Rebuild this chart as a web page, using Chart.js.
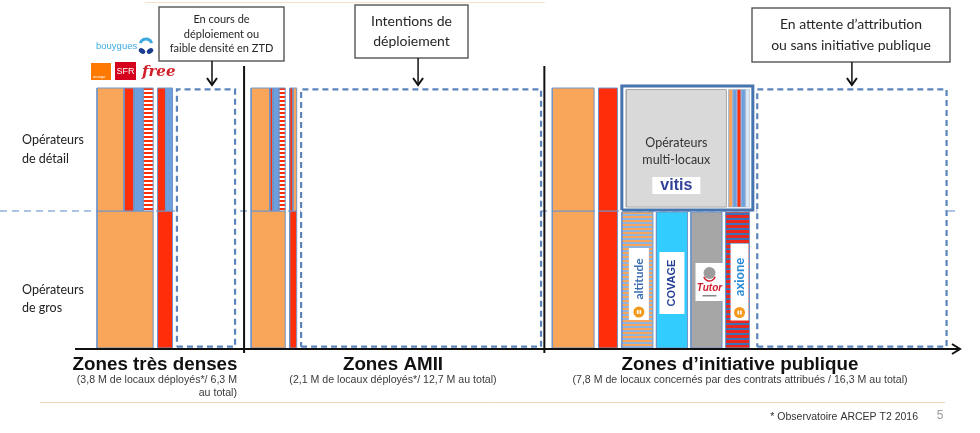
<!DOCTYPE html>
<html><head><meta charset="utf-8">
<script src="https://cdn.jsdelivr.net/npm/chart.js@4/dist/chart.umd.min.js"></script>
<style>html,body{margin:0;padding:0;background:#fff;}canvas{display:block;}</style>
</head><body>
<canvas id="c" width="980" height="433" style="width:980px;height:433px"></canvas>
<script>
// ---------------- DATA (millions de locaux) ----------------
const zoneNames = ['Zones très denses', 'Zones AMII', 'Zones d\u2019initiative publique'];
const zoneNotes = [
  ['(3,8 M de locaux déployés*/ 6,3 M', 'au total)'],
  ['(2,1 M de locaux déployés*/ 12,7 M au total)'],
  ['(7,8 M de locaux concernés par des contrats attribués / 16,3 M au total)']
];
const rowLabels = [['Opérateurs', 'de détail'], ['Opérateurs', 'de gros']];
const rowSplit = 52.7;          // share (%) : wholesale below, retail above

// Zones très denses
const ztdColWidths = [2.55, 0.68];
const ztdTopWidths = [[1.23, 0.45, 0.41, 0.46], [0.36, 0.32]];
const ztdTopOps = [['orange', 'sfr', 'bouygues', 'free'], ['sfr', 'bouygues']];
const ztdBottomOps = ['orange', 'sfr'];
const ztdPending = 2.64;

// Zones AMII
const amiiColWidths = [1.55, 0.32];
const amiiTopWidths = [[0.85, 0.14, 0.27, 0.29], [0.15, 0.17]];
const amiiTopOps = [['orange', 'sfr', 'bouygues', 'free'], ['sfr', 'orange']];
const amiiBottomOps = ['orange', 'sfr'];
const amiiPending = 10.9;

// Zones d'initiative publique
const ripColWidths = [1.9, 0.86];
const ripColOps = ['orange', 'sfr'];
const ripMultiWidth = 5.95;
const ripMultiBoxWidth = 4.55;
const ripMultiStripeWidths = [0.19, 0.19, 0.19, 0.19, 0.19];
const ripMultiStripeOps = ['orange', 'bouygues', 'sfr', 'bouygues', 'light'];
const ripWholesaleNames = ['altitude', 'COVAGE', 'Tutor', 'axione'];
const ripWholesaleWidths = [1.41, 1.41, 1.41, 1.09];
const ripPending = 8.6;

const calloutTexts = [
  ['En cours de', 'déploiement ou', 'faible densité en ZTD'],
  ['Intentions de', 'déploiement'],
  ['En attente d\u2019attribution', 'ou sans initiative publique']
];
const footnote = '* Observatoire ARCEP T2 2016';
const pageNo = '5';

// ---------------- LAYOUT ----------------
const X_MIN = -1, X_MAX = 39.2;
const GAP = 0.2;
const zoneStart = [0, 7.0, 20.68];
const separators = [6.68, 20.32];

function stripePattern(c1, c2, h1, h2) {
  const t = document.createElement('canvas'); t.width = 4; t.height = h1 + h2;
  const g = t.getContext('2d');
  g.fillStyle = c1; g.fillRect(0, 0, 4, h1);
  g.fillStyle = c2; g.fillRect(0, h1, 4, h2);
  return g.createPattern(t, 'repeat');
}
const FILL = {
  orange: '#F9A65A', sfr: '#FF2D0A', bouygues: '#6C9FDB', light: '#DCE6F2',
  free: stripePattern('#FF2D0A', '#FFFFFF', 2, 2),
  altitude: stripePattern('#F9A65A', '#8DB3E2', 2, 2),
  COVAGE: '#33CCFF', Tutor: '#A6A6A6',
  axione: stripePattern('#E8281E', '#3F6FB5', 3, 2)
};
const EDGE = '#7095C8';

const shapes = [];
function rect(x0, x1, y0, y1, fillColor, border, bw, dash) {
  shapes.push({
    type: 'line',
    data: [{x: x0, y: y0}, {x: x1, y: y0}, {x: x1, y: y1}, {x: x0, y: y1}, {x: x0, y: y0}],
    backgroundColor: fillColor || 'rgba(0,0,0,0)',
    fill: fillColor ? 'shape' : false,
    borderColor: border, borderWidth: bw, borderDash: dash || [],
    pointRadius: 0, pointHoverRadius: 0, tension: 0, clip: false,
    borderJoinStyle: 'miter'
  });
}
const pendingBox = (x0, w) => rect(x0, x0 + w, 0.5, 99.5, '#FFFFFF', '#5B84BC', 2.2, [6, 4]);

function splitZone(start, colWidths, topWidths, topOps, bottomOps, pending) {
  let x = start;
  colWidths.forEach((w, i) => {
    rect(x, x + w, 0, rowSplit, FILL[bottomOps[i]], EDGE, 1);
    let tx = x;
    topWidths[i].forEach((tw, j) => { rect(tx, tx + tw, rowSplit, 100, FILL[topOps[i][j]], EDGE, 1); tx += tw; });
    x += w + GAP;
  });
  pendingBox(x, pending);
  return {x0: x, x1: x + pending};
}
const pend = [];
pend.push(splitZone(zoneStart[0], ztdColWidths, ztdTopWidths, ztdTopOps, ztdBottomOps, ztdPending));
pend.push(splitZone(zoneStart[1], amiiColWidths, amiiTopWidths, amiiTopOps, amiiBottomOps, amiiPending));

// RIP
let rx = zoneStart[2];
ripColWidths.forEach((w, i) => {
  rect(rx, rx + w, 0, rowSplit, FILL[ripColOps[i]], EDGE, 1);
  rect(rx, rx + w, rowSplit, 100, FILL[ripColOps[i]], EDGE, 1);
  rx += w + GAP;
});
const multi = {x0: rx, x1: rx + ripMultiWidth};
rect(multi.x0, multi.x1, 53.1, 100.8, '#FFFFFF', '#4674AE', 3);
const grayBox = {x0: multi.x0 + 0.2, x1: multi.x0 + 0.2 + ripMultiBoxWidth};
rect(grayBox.x0, grayBox.x1, 54.2, 99.4, '#D9D9D9', '#A8A8A8', 1);
let sx = grayBox.x1 + 0.1;
ripMultiStripeWidths.forEach((w, i) => { rect(sx, sx + w, 54.2, 99.4, FILL[ripMultiStripeOps[i]], '#9DB5D6', 0.5); sx += w; });
const cells = [];
let cx = multi.x0;
ripWholesaleWidths.forEach((w, i) => {
  rect(cx, cx + w, 0, 52.3, FILL[ripWholesaleNames[i]], EDGE, 1);
  cells.push({x0: cx, x1: cx + w});
  cx += w + 0.16;
});
pendingBox(multi.x1 + 0.2, ripPending);
pend.push({x0: multi.x1 + 0.2, x1: multi.x1 + 0.2 + ripPending});

const datasets = shapes.reverse();   // first dataset is drawn on top in Chart.js

// ---------------- DECORATION PLUGIN ----------------
function txt(ctx, s, x, y, font, color, align) {
  ctx.font = font; ctx.fillStyle = color; ctx.textAlign = align || 'left'; ctx.textBaseline = 'middle';
  ctx.fillText(s, x, y);
}
function seg(ctx, x0, y0, x1, y1) { ctx.beginPath(); ctx.moveTo(x0, y0); ctx.lineTo(x1, y1); ctx.stroke(); }
function callout(ctx, b, lines, font, lh, ax, tip) {
  ctx.fillStyle = '#fff'; ctx.fillRect(b[0], b[1], b[2] - b[0], b[3] - b[1]);
  ctx.strokeStyle = '#555'; ctx.lineWidth = 1.4; ctx.setLineDash([]);
  ctx.strokeRect(b[0], b[1], b[2] - b[0], b[3] - b[1]);
  const cxm = (b[0] + b[2]) / 2, cym = (b[1] + b[3]) / 2;
  lines.forEach((l, i) => txt(ctx, l, cxm, cym + (i - (lines.length - 1) / 2) * lh, font, '#262626', 'center'));
  ctx.strokeStyle = '#111'; ctx.lineWidth = 1.5;
  seg(ctx, ax, b[3], ax, tip);
  ctx.lineWidth = 2;
  ctx.beginPath(); ctx.moveTo(ax - 5, tip - 7); ctx.lineTo(ax, tip); ctx.lineTo(ax + 5, tip - 7); ctx.stroke();
}
function vlogo(ctx, cxp, cyp, w, h, label, font, color, dotColor) {
  ctx.fillStyle = '#fff'; ctx.fillRect(cxp - w / 2, cyp - h / 2, w, h);
  ctx.save(); ctx.translate(cxp, cyp - (dotColor ? 5 : 0)); ctx.rotate(-Math.PI / 2);
  txt(ctx, label, 0, 0, font, color, 'center');
  ctx.restore();
  if (dotColor) {
    ctx.fillStyle = dotColor; ctx.beginPath(); ctx.arc(cxp, cyp + h / 2 - 8, 5.5, 0, Math.PI * 2); ctx.fill();
    ctx.fillStyle = '#fff'; ctx.fillRect(cxp - 2, cyp + h / 2 - 10, 1.6, 4); ctx.fillRect(cxp + 0.6, cyp + h / 2 - 10, 1.6, 4);
  }
}

const decor = {
  id: 'decor',
  beforeDatasetsDraw(chart) {
    const {ctx} = chart, xs = chart.scales.x, ys = chart.scales.y;
    ctx.save();
    ctx.strokeStyle = '#F6E1CD'; ctx.lineWidth = 1;
    seg(ctx, 145, 2.5, 545, 2.5);
    const yMid = ys.getPixelForValue(rowSplit);
    ctx.strokeStyle = '#8FB1DC'; ctx.lineWidth = 1.5; ctx.setLineDash([7, 5]);
    seg(ctx, 0, yMid, xs.getPixelForValue(X_MAX), yMid);
    ctx.restore();
  },
  afterDatasetsDraw(chart) {
    const {ctx} = chart, xs = chart.scales.x, ys = chart.scales.y;
    const px = v => xs.getPixelForValue(v), py = v => ys.getPixelForValue(v);
    ctx.save();
    // separators
    ctx.strokeStyle = '#111'; ctx.lineWidth = 2;
    separators.forEach(s => seg(ctx, px(s), 66, px(s), py(0) + 5));
    // horizontal axis with arrow
    const y0 = py(0) + 1;
    seg(ctx, px(X_MIN), y0, px(X_MAX) - 1, y0);
    ctx.beginPath(); ctx.moveTo(px(X_MAX) - 8, y0 - 5); ctx.lineTo(px(X_MAX), y0); ctx.lineTo(px(X_MAX) - 8, y0 + 5); ctx.stroke();

    // row labels
    txt(ctx, rowLabels[0][0], 22, 140, '12.5px Lato', '#222');
    txt(ctx, rowLabels[0][1], 22, 159, '12.5px Lato', '#222');
    txt(ctx, rowLabels[1][0], 22, 290, '12.5px Lato', '#222');
    txt(ctx, rowLabels[1][1], 22, 308, '12.5px Lato', '#222');

    // zone titles & notes
    const titleX = [155, 393, 740];
    zoneNames.forEach((n, i) => txt(ctx, n, titleX[i], 365, 'bold 18.8px "Liberation Sans"', '#111', 'center'));
    const nf = '10.6px "Liberation Sans"';
    txt(ctx, zoneNotes[0][0], 237, 380, nf, '#3a3a3a', 'right');
    txt(ctx, zoneNotes[0][1], 237, 393, nf, '#3a3a3a', 'right');
    txt(ctx, zoneNotes[1][0], 393, 380, nf, '#3a3a3a', 'center');
    txt(ctx, zoneNotes[2][0], 740, 380, nf, '#3a3a3a', 'center');

    // bottom rule and footnote
    ctx.strokeStyle = '#F5D4B4'; ctx.lineWidth = 1; ctx.setLineDash([]);
    seg(ctx, 40, 402.5, 945, 402.5);
    txt(ctx, footnote, 918, 417, '10.5px "Liberation Sans"', '#333', 'right');
    txt(ctx, pageNo, 940, 416, '12px "Liberation Sans"', '#9a9a9a', 'center');

    // callouts
    const tip = py(100) - 3;
    callout(ctx, [159, 7, 284, 61], calloutTexts[0], '11px Lato', 14.5, px((pend[0].x0 + pend[0].x1) / 2) + 6, tip);
    callout(ctx, [355, 5, 468, 58], calloutTexts[1], '14px Lato', 19.5, px((pend[1].x0 + pend[1].x1) / 2) - 3, tip);
    callout(ctx, [752, 8, 950, 62], calloutTexts[2], '14px Lato', 20.5, px((pend[2].x0 + pend[2].x1) / 2), tip);

    // operator logos (ZTD)
    txt(ctx, 'bouygues', 96, 46, '9.5px "Liberation Sans"', '#3FA9DF');
    ctx.strokeStyle = '#3FA9DF'; ctx.lineWidth = 3;
    ctx.beginPath(); ctx.arc(146, 45, 6, Math.PI * 1.1, Math.PI * 1.9); ctx.stroke();
    ctx.fillStyle = '#1B3D8F';
    ctx.beginPath(); ctx.ellipse(142, 51, 3.5, 2.5, 0.6, 0, Math.PI * 2); ctx.fill();
    ctx.beginPath(); ctx.ellipse(150, 51, 3.5, 2.5, -0.6, 0, Math.PI * 2); ctx.fill();
    ctx.fillStyle = '#FF7900'; ctx.fillRect(91, 63, 20, 17);
    txt(ctx, 'orange', 93, 77, '4px "Liberation Sans"', '#fff');
    ctx.fillStyle = '#D5001C'; ctx.fillRect(115, 62, 21, 18);
    txt(ctx, 'SFR', 125.5, 71.5, '9px "Liberation Sans"', '#fff', 'center');
    txt(ctx, 'free', 142, 72, 'italic bold 15px "DejaVu Serif"', '#D0212A');

    // multi-local operators box
    const gx = px((grayBox.x0 + grayBox.x1) / 2);
    txt(ctx, 'Opérateurs', gx, 143, '12.5px Lato', '#333', 'center');
    txt(ctx, 'multi-locaux', gx, 160, '12.5px Lato', '#333', 'center');
    ctx.fillStyle = '#fff'; ctx.fillRect(gx - 24, 177, 48, 17);
    txt(ctx, 'vitis', gx, 186, 'bold 16px "Liberation Sans"', '#33429A', 'center');

    // wholesale operator logos (RIP)
    const c = cells.map(k => px((k.x0 + k.x1) / 2));
    vlogo(ctx, c[0] + 1.5, 284, 20, 72, ripWholesaleNames[0], 'bold 12px Lato', '#3C6FB0', '#F39A1E');
    vlogo(ctx, c[1], 283, 25, 62, ripWholesaleNames[1], 'bold 11px "Liberation Sans"', '#233E94', null);
    // Tutor
    ctx.fillStyle = '#fff'; ctx.fillRect(c[2] - 11, 263, 28, 38);
    ctx.fillStyle = '#9c9c9c'; ctx.beginPath(); ctx.arc(c[2] + 3, 273, 6, 0, Math.PI * 2); ctx.fill();
    ctx.strokeStyle = '#D0202E'; ctx.lineWidth = 1.5; ctx.beginPath(); ctx.arc(c[2] + 3, 275, 6, Math.PI * 0.1, Math.PI * 0.9); ctx.stroke();
    txt(ctx, ripWholesaleNames[2], c[2] + 3, 288, 'italic bold 10px "Liberation Sans"', '#D0202E', 'center');
    ctx.fillStyle = '#888'; ctx.fillRect(c[2] - 4, 295, 14, 1.5);
    vlogo(ctx, c[3] + 2, 282, 18, 77, ripWholesaleNames[3], 'bold 13px Lato', '#2A8AD3', '#F39A1E');
    ctx.restore();
  }
};

new Chart(document.getElementById('c').getContext('2d'), {
  type: 'line',
  data: {datasets},
  options: {
    responsive: false, animation: false, parsing: true,
    layout: {padding: {left: 75, right: 20, top: 88, bottom: 85}},
    scales: {
      x: {type: 'linear', min: X_MIN, max: X_MAX, display: false},
      y: {type: 'linear', min: 0, max: 100, display: false}
    },
    plugins: {legend: {display: false}, tooltip: {enabled: false}},
    elements: {point: {radius: 0}, line: {tension: 0}}
  },
  plugins: [decor]
});
</script>
</body></html>
